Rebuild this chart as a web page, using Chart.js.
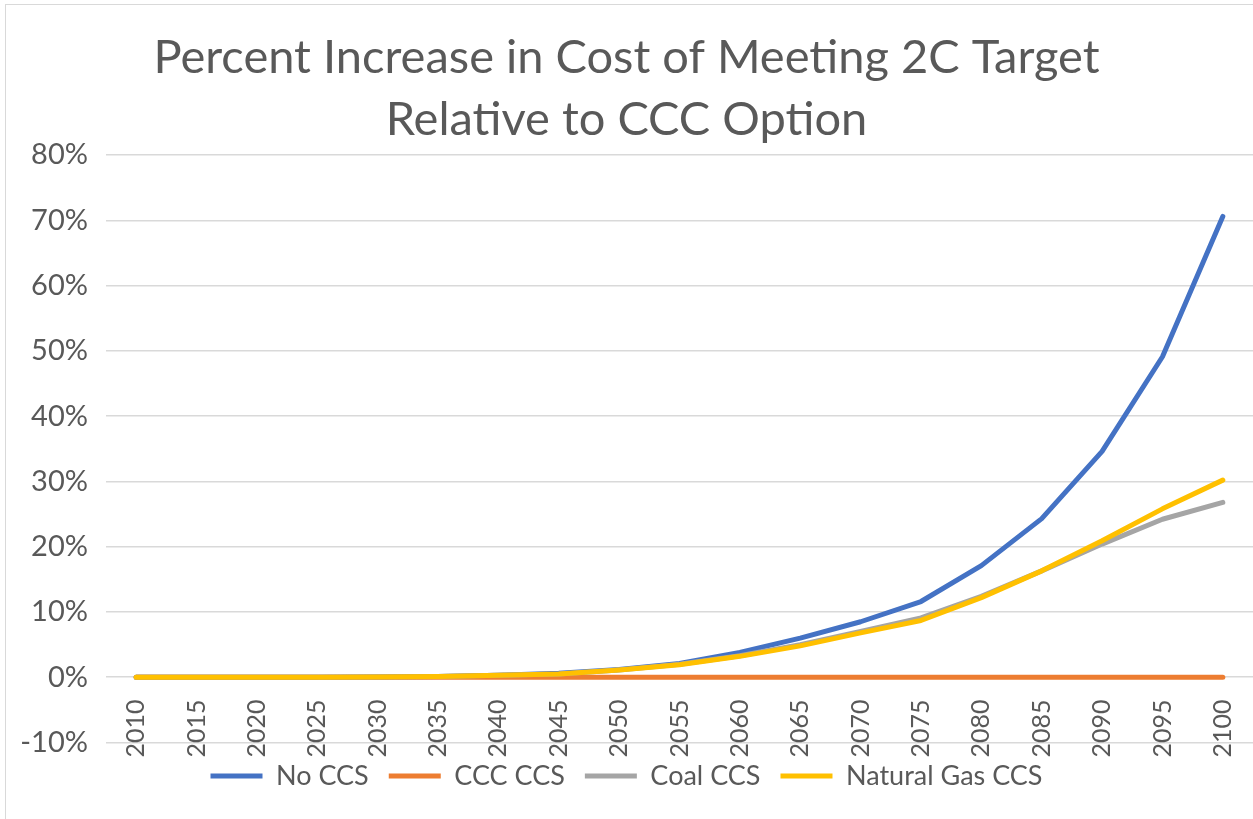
<!DOCTYPE html>
<html lang="en">
<head>
    <meta charset="UTF-8">
    <title>Percent Increase in Cost of Meeting 2C Target</title>
    <style>
        html, body { margin: 0; padding: 0; background: #fff; overflow: hidden; }
        #wrap { position: relative; width: 1253px; height: 819px; }
        /* chart frame, only its left and top edges show */
        #frame { position: absolute; left: 5px; top: 4px; width: 1300px; height: 900px;
                 border: 1px solid #d9d9d9; box-sizing: border-box; pointer-events: none; }
    </style>
</head>
<body>
    <div id="wrap">
        <canvas id="chart"></canvas>
        <div id="frame"></div>
    </div>

    <script src="https://cdn.jsdelivr.net/npm/chart.js@4.4.0/dist/chart.umd.min.js"></script>

    <script>
        // years on the horizontal axis
        const years = ["2010", "2015", "2020", "2025", "2030", "2035", "2040", "2045", "2050", "2055",
                       "2060", "2065", "2070", "2075", "2080", "2085", "2090", "2095", "2100"];

        // percent increase in cost, one array per scenario
        const noCcs      = [0, 0, 0, 0, 0.05, 0.1, 0.3, 0.6, 1.2, 2.1, 3.8, 6.0, 8.5, 11.6, 17.1, 24.3, 34.6, 49.1, 70.6];
        const cccCcs     = [0, 0, 0, 0, 0, 0, 0, 0, 0, 0, 0, 0, 0, 0, 0, 0, 0, 0, 0];
        const coalCcs    = [0, 0, 0, 0, 0.05, 0.1, 0.3, 0.5, 1.1, 2.0, 3.3, 5.0, 7.0, 9.1, 12.4, 16.3, 20.4, 24.2, 26.8];
        const naturalGas = [0, 0, 0, 0, 0.05, 0.1, 0.3, 0.5, 1.1, 1.9, 3.2, 4.8, 6.8, 8.7, 12.2, 16.3, 20.9, 25.8, 30.2];

        const seriesNames = ["No CCS", "CCC CCS", "Coal CCS", "Natural Gas CCS"];
        const seriesColors = ["#4472C4", "#ED7D31", "#A5A5A5", "#FFC000"];

        // y axis: -10% .. 80% in steps of 10
        const yMin = -10, yMax = 80, yStep = 10;

        const textColor = "#595959";
        const fontFamily = "Lato, 'Open Sans', sans-serif";

        const allSeries = [noCcs, cccCcs, coalCcs, naturalGas];
        const datasets = allSeries.map((values, i) => ({
            label: seriesNames[i],
            data: values,
            borderColor: seriesColors[i],
            backgroundColor: seriesColors[i],
            borderWidth: 5,
            borderCapStyle: 'round',
            borderJoinStyle: 'round',
            pointRadius: 0,
            pointHoverRadius: 0,
            tension: 0,
            // later series sit on top of earlier ones
            order: allSeries.length - i
        }));

        const config = {
            type: 'line',
            data: { labels: years, datasets: datasets },
            options: {
                responsive: true,
                maintainAspectRatio: false,
                animation: false,
                layout: { padding: { left: 0, right: 0, top: 0, bottom: 19.5 } },
                plugins: {
                    title: {
                        display: true,
                        text: ["Percent Increase in Cost of Meeting 2C Target", "Relative to CCC Option"],
                        color: textColor,
                        font: { family: fontFamily, size: 47, weight: 'normal', lineHeight: 1.32 },
                        padding: { top: 27, bottom: 4 }
                    },
                    legend: {
                        position: 'bottom',
                        labels: {
                            color: textColor,
                            font: { family: fontFamily, size: 27 },
                            usePointStyle: true,
                            pointStyle: 'line',
                            pointStyleWidth: 52,
                            padding: 20,
                            sort: (a, b) => a.datasetIndex - b.datasetIndex
                        }
                    },
                    tooltip: { enabled: false }
                },
                scales: {
                    x: {
                        offset: true,
                        grid: { display: false, drawTicks: false },
                        border: { display: false },
                        ticks: {
                            color: textColor,
                            font: { family: fontFamily, size: 25 },
                            minRotation: 90,
                            maxRotation: 90,
                            autoSkip: false,
                            // pull the year labels up so they hang just under the 0% line
                            padding: -43
                        },
                        afterFit: (scale) => {
                            scale.height = 0;
                            // labels reach above the axis box, so don't clip them to it
                            scale._computeLabelArea = () => undefined;
                        }
                    },
                    y: {
                        min: yMin,
                        max: yMax,
                        ticks: {
                            stepSize: yStep,
                            color: textColor,
                            font: { family: fontFamily, size: 29 },
                            padding: 18,
                            callback: (v) => v + '%'
                        },
                        grid: { color: '#d9d9d9', lineWidth: 1.5, drawTicks: false },
                        border: { display: false },
                        afterFit: (scale) => { scale.width = 106; }
                    }
                }
            }
        };

        const ctx = document.getElementById("chart").getContext("2d");
        const chart = new Chart(ctx, config);
    </script>
</body>
</html>
